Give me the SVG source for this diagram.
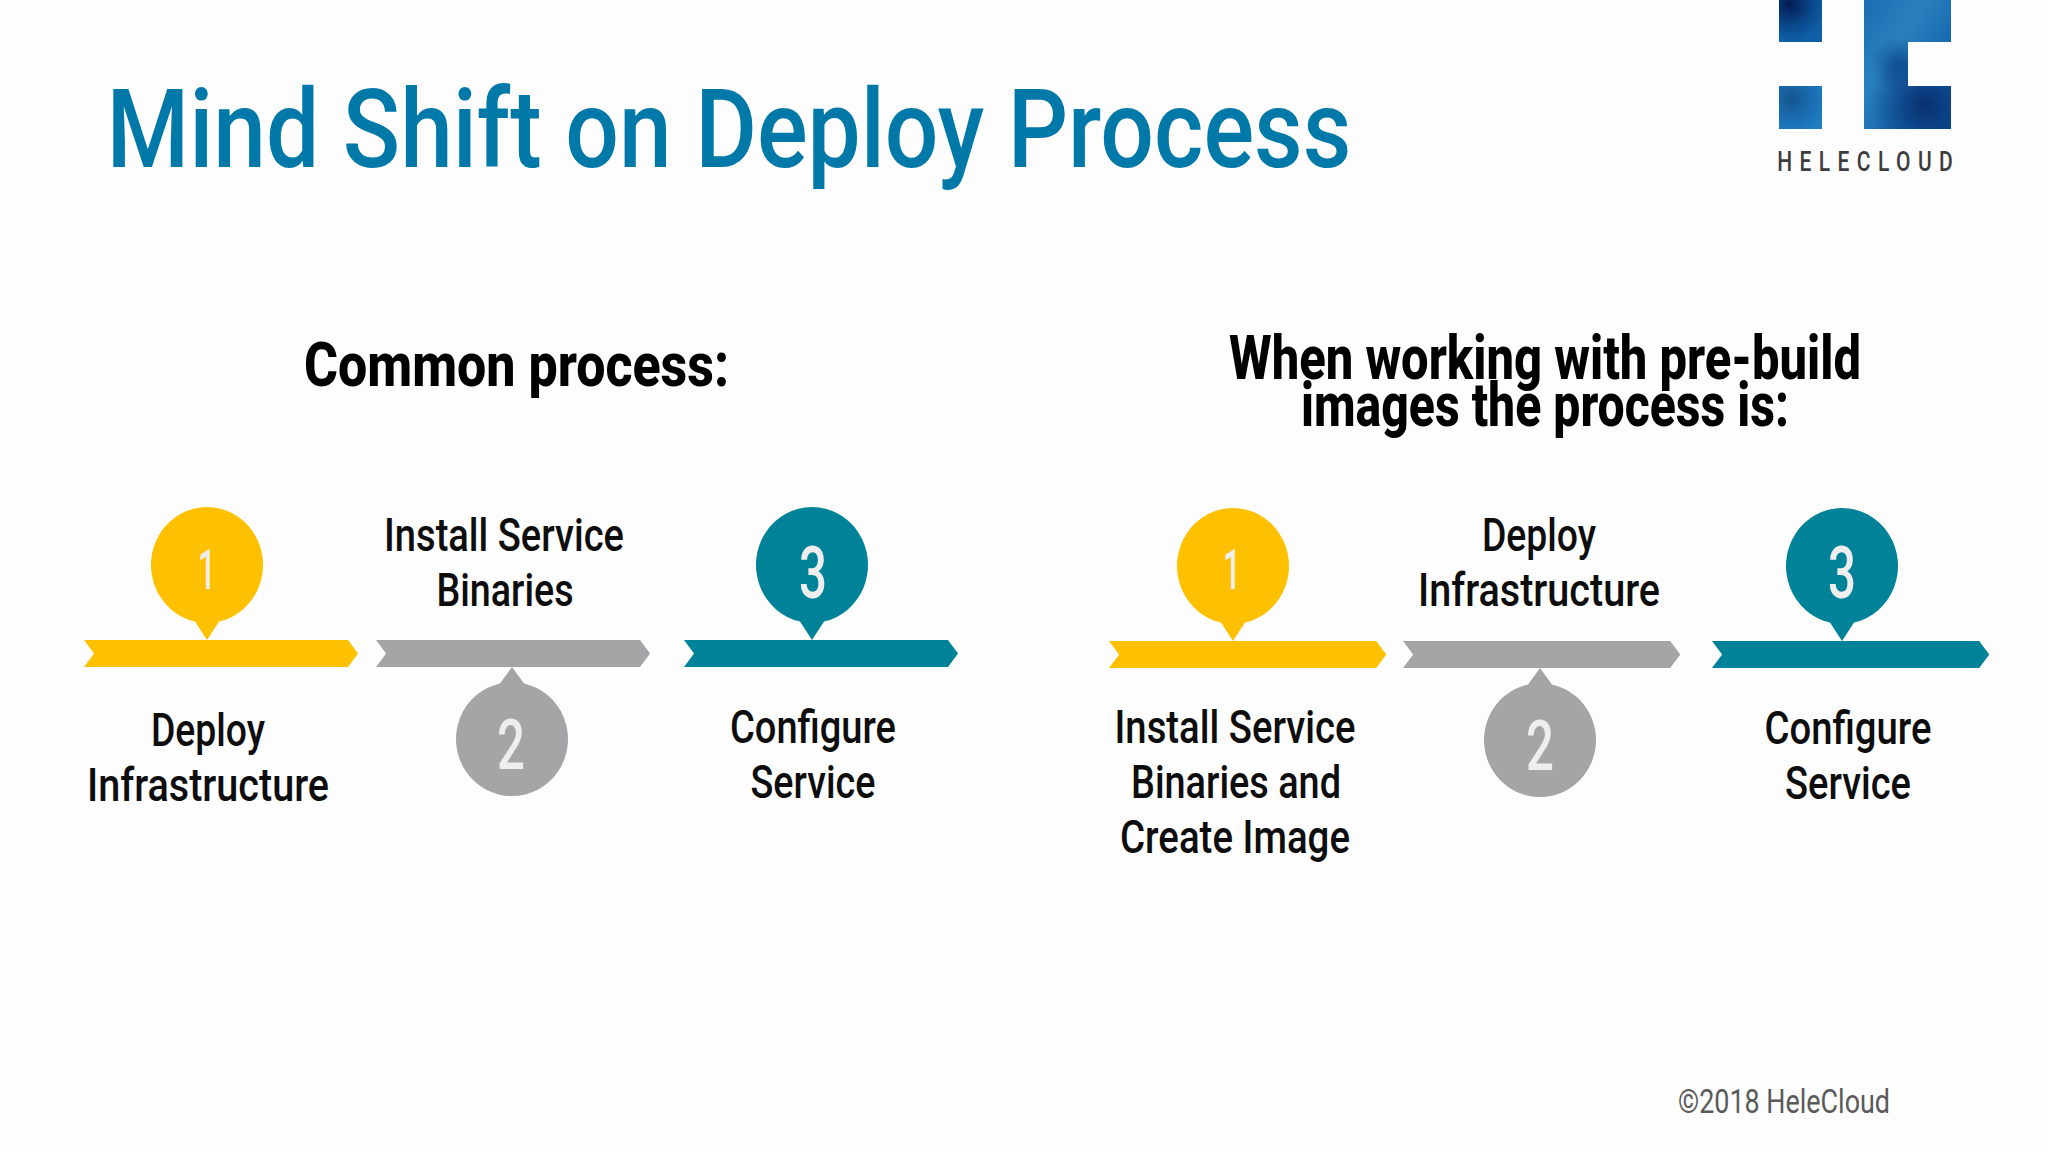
<svg xmlns="http://www.w3.org/2000/svg" width="2048" height="1152" viewBox="0 0 2048 1152">
<style>
text{font-family:"Roboto","Liberation Sans",sans-serif;text-anchor:middle}
.l{font-size:46px;font-weight:500;fill:#0d0d0d}
.h{font-size:62px;font-weight:800;fill:#000}
.n{font-weight:500;fill:#eeeeee}
.y{fill:#ffc000}.g{fill:#a5a5a7}.t{fill:#008299}
</style>
<defs>
<path id="bar" d="M0 0H264L274 13.500L264 27H0L10 13.500Z"/>
<path id="pinD" d="M-12 56.600A56 58 0 1 1 12 56.600L0 75Z"/>
<path id="pinU" d="M12-55.600A56 57 0 1 1-12-55.600L0-72Z"/>
<path id="logoC" d="M1864 0H1951V42H1908V86H1951V129H1864Z"/>
<radialGradient id="lg1" cx=".25" cy=".1" r=".9"><stop offset="0" stop-color="#031c52"/><stop offset=".6" stop-color="#0a4a8e"/><stop offset="1" stop-color="#0f60a6"/></radialGradient>
<radialGradient id="lg2" cx=".3" cy=".3" r=".9"><stop offset="0" stop-color="#15558f"/><stop offset=".5" stop-color="#1a6cb0"/><stop offset="1" stop-color="#2080c4"/></radialGradient>
<linearGradient id="lg3" x1="0" y1="0" x2="1" y2="1"><stop offset="0" stop-color="#1a6db0"/><stop offset=".35" stop-color="#2a80be"/><stop offset=".62" stop-color="#1a6cb0"/><stop offset="1" stop-color="#0d5299"/></linearGradient>
<radialGradient id="lg4" gradientUnits="userSpaceOnUse" cx="1925" cy="105" r="55"><stop offset="0" stop-color="#062a6c" stop-opacity=".9"/><stop offset="1" stop-color="#062a6c" stop-opacity="0"/></radialGradient>
<radialGradient id="lg5" gradientUnits="userSpaceOnUse" cx="1898" cy="65" r="28"><stop offset="0" stop-color="#0a4488" stop-opacity=".8"/><stop offset="1" stop-color="#0a4488" stop-opacity="0"/></radialGradient>
</defs>
<rect width="2048" height="1152" fill="#fdfdfd"/>
<text x="729" y="167" font-size="110" font-weight="500" fill="#0079a8" textLength="1245" lengthAdjust="spacingAndGlyphs">Mind Shift on Deploy Process</text>
<g id="logo">
<rect x="1779" y="0" width="43" height="42" fill="url(#lg1)"/>
<rect x="1779" y="86" width="43" height="43" fill="url(#lg2)"/>
<use href="#logoC" fill="url(#lg3)"/>
<use href="#logoC" fill="url(#lg4)"/>
<use href="#logoC" fill="url(#lg5)"/>
<text transform="translate(1865 171) scale(.75 1)" x="0" y="0" font-size="28" font-weight="500" fill="#3c3c3e" textLength="234" lengthAdjust="spacing">HELECLOUD</text>
</g>
<text class="h" x="516.500" y="386" textLength="425" lengthAdjust="spacingAndGlyphs">Common process:</text>
<text class="h" x="1545" y="379" textLength="632" lengthAdjust="spacingAndGlyphs">When working with pre-build</text>
<text class="h" x="1545" y="426" textLength="488" lengthAdjust="spacingAndGlyphs">images the process is:</text>
<g id="connectors"></g>
<g id="left-step-1">
<use href="#bar" class="y" x="84" y="640"/><use href="#pinD" class="y" x="207" y="565"/>
<text class="n" font-size="55" x="207" y="589" textLength="18" lengthAdjust="spacingAndGlyphs">1</text>
<text class="l" x="208" y="746" textLength="114" lengthAdjust="spacingAndGlyphs">Deploy</text>
<text class="l" x="208" y="801" textLength="242" lengthAdjust="spacingAndGlyphs">Infrastructure</text>
</g>
<g id="left-step-2">
<use href="#bar" class="g" x="376" y="640"/><use href="#pinU" class="g" x="512" y="739"/>
<text class="n" font-size="70" x="511" y="769" textLength="28" lengthAdjust="spacingAndGlyphs">2</text>
<text class="l" x="504" y="551" textLength="240" lengthAdjust="spacingAndGlyphs">Install Service</text>
<text class="l" x="505" y="606" textLength="137" lengthAdjust="spacingAndGlyphs">Binaries</text>
</g>
<g id="left-step-3">
<use href="#bar" class="t" x="684" y="640"/><use href="#pinD" class="t" x="812" y="565"/>
<text class="n" font-size="72" x="813" y="598" textLength="28" lengthAdjust="spacingAndGlyphs">3</text>
<text class="l" x="813" y="743" textLength="166" lengthAdjust="spacingAndGlyphs">Configure</text>
<text class="l" x="813" y="798" textLength="125" lengthAdjust="spacingAndGlyphs">Service</text>
</g>
<g id="right-step-1">
<use href="#bar" class="y" transform="translate(1109 641) scale(1.012 1)"/><use href="#pinD" class="y" x="1233" y="566"/>
<text class="n" font-size="55" x="1232" y="589" textLength="18" lengthAdjust="spacingAndGlyphs">1</text>
<text class="l" x="1235" y="743" textLength="241" lengthAdjust="spacingAndGlyphs">Install Service</text>
<text class="l" x="1236" y="798" textLength="210" lengthAdjust="spacingAndGlyphs">Binaries and</text>
<text class="l" x="1235" y="853" textLength="230" lengthAdjust="spacingAndGlyphs">Create Image</text>
</g>
<g id="right-step-2">
<use href="#bar" class="g" transform="translate(1403 641) scale(1.012 1)"/><use href="#pinU" class="g" x="1540" y="740"/>
<text class="n" font-size="70" x="1540" y="770" textLength="28" lengthAdjust="spacingAndGlyphs">2</text>
<text class="l" x="1539" y="551" textLength="114" lengthAdjust="spacingAndGlyphs">Deploy</text>
<text class="l" x="1539" y="606" textLength="242" lengthAdjust="spacingAndGlyphs">Infrastructure</text>
</g>
<g id="right-step-3">
<use href="#bar" class="t" transform="translate(1712 641) scale(1.012 1)"/><use href="#pinD" class="t" x="1842" y="566"/>
<text class="n" font-size="72" x="1842" y="598" textLength="28" lengthAdjust="spacingAndGlyphs">3</text>
<text class="l" x="1848" y="744" textLength="167" lengthAdjust="spacingAndGlyphs">Configure</text>
<text class="l" x="1848" y="799" textLength="126" lengthAdjust="spacingAndGlyphs">Service</text>
</g>
<text x="1784" y="1113" font-size="33" fill="#5a5a5a" textLength="212" lengthAdjust="spacingAndGlyphs">©2018 HeleCloud</text>
</svg>
